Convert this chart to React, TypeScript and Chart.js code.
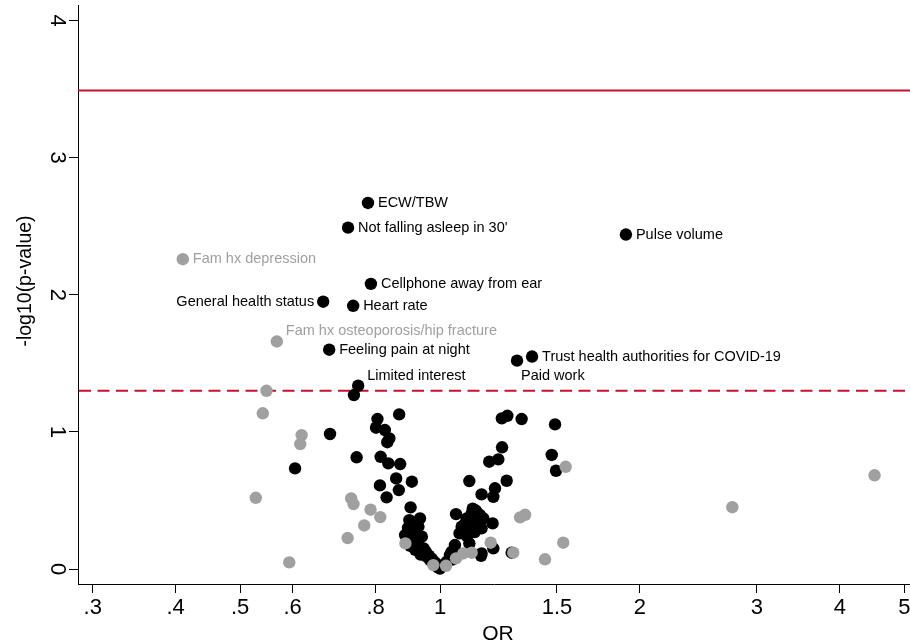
import React, { useEffect, useRef } from 'react';
import { Chart, registerables } from 'chart.js';

Chart.register(...registerables);

// ---- axis ticks ----
const xTickValues = [0.3, 0.4, 0.5, 0.6, 0.8, 1, 1.5, 2, 3, 4, 5];
const xTickLabels = ['.3', '.4', '.5', '.6', '.8', '1', '1.5', '2', '3', '4', '5'];
const yTickValues = [0, 1, 2, 3, 4];
const xTitle = 'OR';
const yTitle = '-log10(p-value)';

// ---- reference lines (-log10 p) ----
const bonferroniLine = 3.49;
const nominalLine = 1.301;

// ---- black unlabeled points ----
const sigOR = [
  0.742, 0.683, 0.605, 0.749, 0.805, 0.868, 0.801, 0.826, 0.839, 0.833,
  0.814, 0.836, 0.871, 0.859, 0.907, 0.812, 0.867, 0.831, 0.903, 0.899,
  0.933, 0.886, 0.928, 0.939, 0.912, 0.922, 0.933, 0.944, 0.955, 0.966,
  0.977, 0.989, 1.0, 0.895, 0.905, 0.915, 0.925, 0.945, 0.952, 0.962,
  0.972, 0.983, 0.902, 0.918, 0.935, 0.995,
  1.023, 1.035, 1.053, 1.057, 1.107, 1.078, 1.097, 1.116, 1.133, 1.149,
  1.162, 1.103, 1.155, 1.2, 1.107, 1.155, 1.203, 1.155, 1.203, 1.21,
  1.26, 1.186, 1.224, 1.24, 1.239, 1.263, 1.327, 1.49, 1.473, 1.495,
  1.282, 1.153, 1.041, 1.09, 1.125, 1.138, 1.128, 1.098, 1.07, 1.045,
  1.012, 1.062, 1.12,
];
const sigLogP = [
  1.269, 0.985, 0.734, 0.815, 1.094, 1.128, 1.031, 1.014, 0.953, 0.925,
  0.819, 0.771, 0.766, 0.661, 0.637, 0.61, 0.576, 0.523, 0.45, 0.357,
  0.37, 0.248, 0.309, 0.236, 0.187, 0.163, 0.151, 0.114, 0.09, 0.066,
  0.042, 0.017, 0.003, 0.3, 0.22, 0.262, 0.2, 0.15, 0.125, 0.098,
  0.075, 0.048, 0.17, 0.14, 0.105, 0.01,
  0.053, 0.102, 0.175, 0.401, 0.642, 0.309, 0.37, 0.406, 0.425, 0.394,
  0.37, 0.297, 0.297, 0.333, 0.187, 0.114, 0.151, 0.545, 0.527, 0.589,
  0.644, 0.783, 0.8, 0.888, 1.099, 1.118, 1.094, 1.055, 0.832, 0.717,
  0.119, 0.097, 0.126, 0.33, 0.355, 0.335, 0.27, 0.24, 0.26, 0.07,
  0.03, 0.12, 0.44,
];

// ---- grey unlabeled points ----
const nsOR = [
  0.548, 0.541, 0.619, 0.616, 0.528, 0.593, 0.735, 0.741, 0.786, 0.813,
  0.769, 0.726, 0.887, 0.977, 1.021, 1.057, 1.084, 1.116, 1.192, 1.289,
  1.32, 1.343, 1.439, 1.533, 1.546, 2.755, 4.51,
];
const nsLogP = [
  1.3, 1.136, 0.977, 0.912, 0.52, 0.049, 0.515, 0.474, 0.433, 0.379,
  0.318, 0.226, 0.187, 0.029, 0.024, 0.078, 0.114, 0.119, 0.192, 0.119,
  0.377, 0.396, 0.071, 0.192, 0.746, 0.451, 0.684,
];

// ---- labeled points ----
const labelNames = [
  'ECW/TBW',
  "Not falling asleep in 30'",
  'Fam hx depression',
  'Cellphone away from ear',
  'General health status',
  'Heart rate',
  'Fam hx osteoporosis/hip fracture',
  'Feeling pain at night',
  'Trust health authorities for COVID-19',
  'Paid work',
  'Limited interest',
  'Pulse volume',
];
const labelOR = [0.779, 0.727, 0.41, 0.787, 0.667, 0.74, 0.568, 0.681, 1.376, 1.306, 0.753, 1.905];
const labelLogP = [2.67, 2.49, 2.26, 2.08, 1.95, 1.92, 1.66, 1.6, 1.55, 1.52, 1.337, 2.44];
const labelIsGrey = [false, false, true, false, false, false, true, false, false, false, false, false];
// clock position of the label relative to the marker
const labelClock = [3, 3, 3, 3, 9, 3, 2, 3, 3, 4, 2, 3];

const BLACK = '#000000';
const GREY = '#a0a0a0';
const RED = '#c8102e';
const FONT = 'Liberation Sans, Arial, Helvetica, sans-serif';

const refLinesPlugin = {
  id: 'refLines',
  beforeDatasetsDraw(chart: any) {
    const { ctx, chartArea, scales } = chart;
    const y = scales.y;
    ctx.save();
    ctx.strokeStyle = RED;
    ctx.lineWidth = 2;
    const ySolid = y.getPixelForValue(bonferroniLine);
    ctx.beginPath();
    ctx.moveTo(chartArea.left, ySolid);
    ctx.lineTo(chartArea.right, ySolid);
    ctx.stroke();
    const yDash = y.getPixelForValue(nominalLine);
    ctx.setLineDash([12, 6.5]);
    ctx.beginPath();
    ctx.moveTo(chartArea.left + 1, yDash);
    ctx.lineTo(chartArea.right, yDash);
    ctx.stroke();
    ctx.restore();
  },
};

const pointLabelPlugin = {
  id: 'pointLabels',
  afterDatasetsDraw(chart: any) {
    const { ctx } = chart;
    const meta = chart.getDatasetMeta(0);
    ctx.save();
    ctx.font = `14.5px ${FONT}`;
    meta.data.forEach((el: any, i: number) => {
      const clock = labelClock[i];
      ctx.fillStyle = labelIsGrey[i] ? GREY : BLACK;
      let x = el.x;
      let y = el.y;
      ctx.textBaseline = 'middle';
      if (clock === 3) {
        ctx.textAlign = 'left';
        x += 10;
      } else if (clock === 9) {
        ctx.textAlign = 'right';
        x -= 9;
      } else if (clock === 2) {
        ctx.textAlign = 'left';
        x += 9;
        y -= 10;
      } else if (clock === 4) {
        ctx.textAlign = 'left';
        x += 4;
        y += 15;
      }
      ctx.fillText(labelNames[i], x, y);
    });
    ctx.restore();
  },
};

const titlesPlugin = {
  id: 'axisTitles',
  afterDraw(chart: any) {
    const { ctx, chartArea } = chart;
    ctx.save();
    ctx.fillStyle = BLACK;
    ctx.textAlign = 'center';
    ctx.textBaseline = 'middle';
    ctx.font = `21px ${FONT}`;
    ctx.fillText(xTitle, (chartArea.left + chartArea.right) / 2 + 4, 634);
    ctx.translate(26, 281);
    ctx.rotate(-Math.PI / 2);
    ctx.font = `19.5px ${FONT}`;
    ctx.fillText(yTitle, 0, 0);
    ctx.restore();
  },
};

export default function App() {
  const ref = useRef<HTMLCanvasElement | null>(null);

  useEffect(() => {
    document.body.style.margin = '0';
    const canvas = ref.current;
    if (!canvas) return;
    const chart = new Chart(canvas, {
      type: 'scatter',
      data: {
        datasets: [
          {
            label: 'labeled',
            data: labelOR.map((v, i) => ({ x: v, y: labelLogP[i] })),
            backgroundColor: labelIsGrey.map((g) => (g ? GREY : BLACK)),
            borderWidth: 0,
            pointRadius: 6.2,
          },
          {
            label: 'grey',
            data: nsOR.map((v, i) => ({ x: v, y: nsLogP[i] })),
            backgroundColor: GREY,
            borderWidth: 0,
            pointRadius: 6.2,
          },
          {
            label: 'black',
            data: sigOR.map((v, i) => ({ x: v, y: sigLogP[i] })),
            backgroundColor: BLACK,
            borderWidth: 0,
            pointRadius: 6.2,
          },
        ],
      },
      options: {
        responsive: false,
        animation: false,
        events: [],
        layout: { autoPadding: false, padding: { top: 5, right: 0, left: 0, bottom: 0 } },
        plugins: {
          legend: { display: false },
          tooltip: { enabled: false },
        },
        scales: {
          x: {
            type: 'logarithmic',
            position: 'bottom',
            min: 0.2851,
            max: 5.1,
            afterBuildTicks: (scale: any) => {
              scale.ticks = xTickValues.map((v) => ({ value: v }));
            },
            afterFit: (scale: any) => {
              scale.height = 60;
              scale.paddingLeft = 0;
              scale.paddingRight = 0;
              scale.paddingTop = 0;
              scale.paddingBottom = 0;
            },
            ticks: {
              autoSkip: false,
              maxRotation: 0,
              minRotation: 0,
              padding: 2,
              color: BLACK,
              font: { family: FONT, size: 22 },
              callback: (value: any) => {
                const idx = xTickValues.indexOf(Number(value));
                return idx >= 0 ? xTickLabels[idx] : '';
              },
            },
            grid: {
              drawOnChartArea: false,
              drawTicks: true,
              tickLength: 9,
              tickColor: BLACK,
              lineWidth: 1,
            },
            border: { display: true, color: BLACK, width: 1 },
          },
          y: {
            type: 'linear',
            min: -0.109,
            max: 4.114,
            afterBuildTicks: (scale: any) => {
              scale.ticks = yTickValues.map((v) => ({ value: v }));
            },
            afterFit: (scale: any) => {
              scale.width = 78;
              scale.paddingLeft = 0;
              scale.paddingRight = 0;
              scale.paddingTop = 0;
              scale.paddingBottom = 0;
            },
            ticks: {
              autoSkip: false,
              minRotation: -90,
              maxRotation: -90,
              crossAlign: 'center',
              padding: 6,
              color: BLACK,
              font: { family: FONT, size: 22 },
              callback: (value: any) => String(value),
            },
            grid: {
              drawOnChartArea: false,
              drawTicks: true,
              tickLength: 9,
              tickColor: BLACK,
              lineWidth: 1,
            },
            border: { display: true, color: BLACK, width: 1 },
          },
        },
      },
      plugins: [refLinesPlugin, pointLabelPlugin, titlesPlugin],
    } as any);
    return () => chart.destroy();
  }, []);

  return (
    <div style={{ width: 910, height: 644 }}>
      <canvas ref={ref} width={910} height={644} style={{ display: 'block' }} />
    </div>
  );
}
